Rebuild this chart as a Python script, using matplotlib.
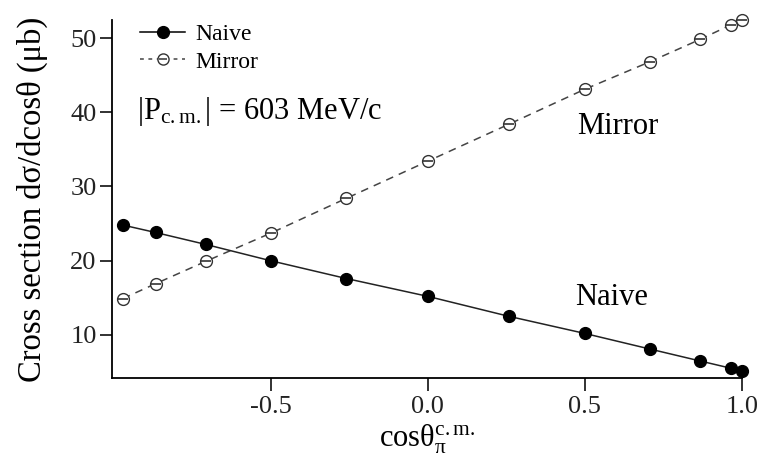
import matplotlib
matplotlib.use("Agg")
import matplotlib.pyplot as plt
from matplotlib.lines import Line2D

cos_theta = [-0.97, -0.866, -0.707, -0.5, -0.259, 0.0, 0.259, 0.5, 0.707, 0.866, 0.966, 1.0]
naive = [24.8, 23.8, 22.2, 20.0, 17.6, 15.2, 12.5, 10.2, 8.1, 6.5, 5.5, 5.2]
mirror = [14.9, 16.9, 19.9, 23.7, 28.4, 33.4, 38.4, 43.1, 46.8, 49.8, 51.8, 52.4]
xticks = [-0.5, 0.0, 0.5, 1.0]
xticklabels = ["-0.5", "0.0", "0.5", "1.0"]
yticks = [10, 20, 30, 40, 50]

plt.rcParams['font.family'] = ['Liberation Serif', 'DejaVu Serif']
plt.rcParams['mathtext.fontset'] = 'custom'
plt.rcParams['mathtext.rm'] = 'Liberation Serif'
plt.rcParams['mathtext.it'] = 'Liberation Serif'
plt.rcParams['mathtext.bf'] = 'Liberation Serif:bold'

fig = plt.figure(figsize=(7.61, 4.59), dpi=100)
ax = fig.add_axes([0.147, 0.1765, 0.828, 0.7795])

ax.plot(cos_theta, naive, '-', color='#222222', lw=1.1, marker='o', ms=8.5,
        mfc='black', mec='black', zorder=3, clip_on=False)
ax.plot(cos_theta, mirror, '--', color='#444444', lw=1.1, dashes=(5, 4), zorder=2,
        clip_on=False)
ax.plot(cos_theta, mirror, linestyle='none', marker='o', ms=8.5, mfc='white',
        mec='#333333', mew=1.0, zorder=3, clip_on=False)
ax.plot(cos_theta, mirror, linestyle='none', marker='_', ms=7, mec='#333333',
        mew=1.2, zorder=4, clip_on=False)

ax.set_xlim(-1.005, 1.0)
ax.set_ylim(4.2, 52.4)
ax.set_xticks(xticks)
ax.set_xticklabels(xticklabels)
ax.set_yticks(yticks)
for s in ['top', 'right']:
    ax.spines[s].set_visible(False)
for s in ['left', 'bottom']:
    ax.spines[s].set_linewidth(1.3)
ax.tick_params(axis='both', direction='out', length=9, width=1.3, labelsize=19,
               colors='#222222')
ax.tick_params(axis='y', pad=2)
ax.tick_params(axis='x', pad=4)

ax.set_xlabel('cosθ$_{π}^{\\mathrm{c.m.}}$', fontsize=22, labelpad=3)
ax.set_ylabel('Cross section dσ/dcosθ (μb)', fontsize=23.5, labelpad=16)

h1 = Line2D([], [], color='black', lw=1.1, marker='o', ms=8.5, mfc='black', mec='black')
h2 = Line2D([], [], color='#444444', lw=1.1, ls='--', dashes=(2.5, 3), marker='o',
            ms=8, mfc='white', mec='#333333')
h3 = Line2D([], [], linestyle='none', marker='_', ms=6, mec='#333333', mew=1.1)
leg = ax.legend([h1, (h2, h3)], ['Naive', 'Mirror'], loc='upper left',
                bbox_to_anchor=(0.045, 0.99), frameon=False, fontsize=17,
                handlelength=1.9, handletextpad=0.45, labelspacing=0.25,
                borderpad=0, borderaxespad=0)

ax.text(0.04, 40.1, '|P$_{\\mathrm{c.m.}}$| = 603 MeV/c', transform=ax.get_yaxis_transform(),
        fontsize=22, va='center', ha='left')
ax.text(0.475, 38.1, 'Mirror', fontsize=22, va='center')
ax.text(0.468, 15.1, 'Naive', fontsize=22, va='center')

fig.savefig('out.png', dpi=100)
